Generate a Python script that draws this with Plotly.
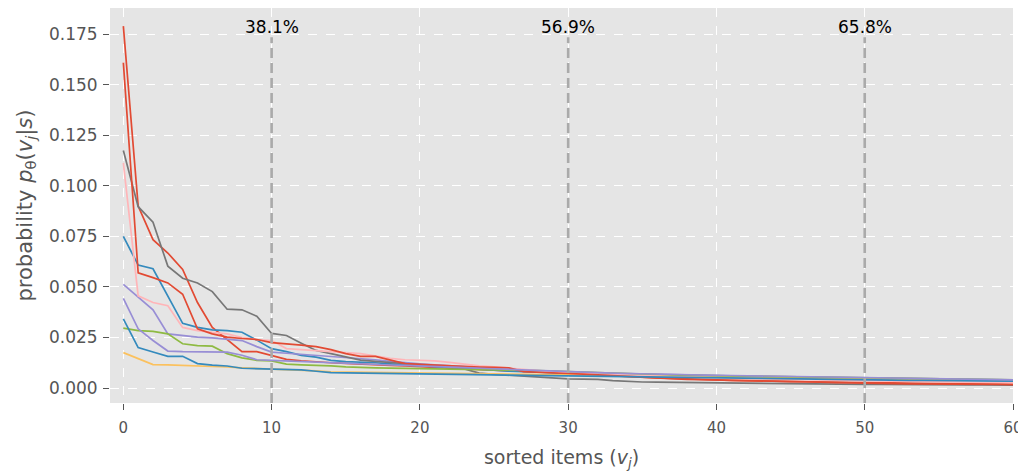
import plotly.graph_objects as go

items = list(range(61))

red_a = [0.179, 0.090, 0.0734, 0.0668, 0.0587, 0.0423, 0.030, 0.024, 0.018, 0.018,
         0.016, 0.0142, 0.0135, 0.0129, 0.0125, 0.0122, 0.0118, 0.0115, 0.0112, 0.011,
         0.0105, 0.0102, 0.0099, 0.0096, 0.0093, 0.009, 0.0086, 0.0082, 0.0079, 0.0076,
         0.0072, 0.0068, 0.0064, 0.006, 0.0056, 0.0052, 0.0049, 0.0046, 0.0043, 0.0041,
         0.0039, 0.0037, 0.0035, 0.0034, 0.0033, 0.0032, 0.0031, 0.003, 0.0029, 0.0028,
         0.0027, 0.0026, 0.0025, 0.0024, 0.0023, 0.0022, 0.0021, 0.0021, 0.002, 0.0019, 0.0018]
blue_a = [0.075, 0.0608, 0.059, 0.0452, 0.032, 0.030, 0.0288, 0.0284, 0.0276, 0.0237,
          0.0195, 0.018, 0.0162, 0.0153, 0.0137, 0.0131, 0.0129, 0.0125, 0.012, 0.0115,
          0.011, 0.0105, 0.0101, 0.0096, 0.0091, 0.0088, 0.0084, 0.0081, 0.0078, 0.0075,
          0.0072, 0.007, 0.0068, 0.0066, 0.0064, 0.0062, 0.006, 0.0059, 0.0057, 0.0056,
          0.0055, 0.0054, 0.0053, 0.0052, 0.0051, 0.005, 0.0049, 0.0048, 0.0047, 0.0046,
          0.0045, 0.0044, 0.0043, 0.0042, 0.0041, 0.004, 0.0039, 0.0038, 0.0037, 0.0036, 0.0035]
purple_a = [0.0513, 0.0448, 0.0387, 0.0268, 0.026, 0.0252, 0.0248, 0.0243, 0.0235, 0.0205,
            0.0178, 0.0172, 0.0167, 0.016, 0.0155, 0.015, 0.0145, 0.014, 0.0132, 0.0125,
            0.012, 0.0115, 0.011, 0.0105, 0.01, 0.0096, 0.0092, 0.0088, 0.0085, 0.0082,
            0.0079, 0.0077, 0.0075, 0.0073, 0.0071, 0.0069, 0.0067, 0.0065, 0.0063, 0.0062,
            0.0061, 0.006, 0.0059, 0.0058, 0.0057, 0.0056, 0.0055, 0.0054, 0.0053, 0.0052,
            0.0051, 0.005, 0.0049, 0.0048, 0.0047, 0.0046, 0.0045, 0.0044, 0.0043, 0.0042, 0.0041]
gray = [0.1175, 0.0897, 0.082, 0.0603, 0.0543, 0.052, 0.0477, 0.039, 0.0387, 0.0355,
        0.027, 0.026, 0.0222, 0.0186, 0.017, 0.0155, 0.0138, 0.0132, 0.0127, 0.012,
        0.0115, 0.011, 0.0104, 0.0095, 0.0074, 0.0068, 0.0063, 0.0058, 0.0053, 0.0048,
        0.0045, 0.0044, 0.0043, 0.0037, 0.0032, 0.003, 0.0029, 0.0028, 0.0027, 0.0026,
        0.0025, 0.0024, 0.0023, 0.0022, 0.0022, 0.0021, 0.002, 0.002, 0.0019, 0.0019,
        0.0018, 0.0018, 0.0017, 0.0017, 0.0016, 0.0016, 0.0015, 0.0015, 0.0015, 0.0014, 0.0014]
yellow = [0.0175, 0.0145, 0.0116, 0.0115, 0.0113, 0.011, 0.0108, 0.0104, 0.01, 0.0097,
          0.0094, 0.0092, 0.009, 0.0085, 0.008, 0.0079, 0.0078, 0.0077, 0.0076, 0.0075,
          0.0074, 0.0073, 0.0072, 0.0071, 0.007, 0.0069, 0.0068, 0.0067, 0.0066, 0.0065,
          0.0064, 0.0063, 0.0062, 0.0061, 0.006, 0.0059, 0.0058, 0.0057, 0.0056, 0.0055,
          0.0054, 0.0053, 0.0052, 0.0051, 0.005, 0.0049, 0.0048, 0.0047, 0.0047, 0.0046,
          0.0045, 0.0044, 0.0043, 0.0043, 0.0042, 0.0041, 0.004, 0.004, 0.0039, 0.0038, 0.0038]
green = [0.0296, 0.0284, 0.028, 0.0268, 0.0219, 0.021, 0.0207, 0.017, 0.0149, 0.0137,
         0.0134, 0.0118, 0.0115, 0.0113, 0.011, 0.0105, 0.0101, 0.01, 0.0099, 0.0098,
         0.0097, 0.0096, 0.0095, 0.0094, 0.0093, 0.0092, 0.009, 0.0088, 0.0086, 0.0084,
         0.0081, 0.0078, 0.0075, 0.0072, 0.007, 0.0068, 0.0066, 0.0064, 0.0063, 0.0062,
         0.006, 0.0059, 0.0058, 0.0057, 0.0056, 0.0055, 0.0054, 0.0053, 0.0052, 0.0051,
         0.005, 0.0049, 0.0048, 0.0047, 0.0046, 0.0045, 0.0044, 0.0043, 0.0042, 0.0042, 0.0041]
pink = [0.1114, 0.0456, 0.0423, 0.0407, 0.030, 0.0284, 0.0275, 0.0268, 0.025, 0.024,
        0.0235, 0.0195, 0.019, 0.0186, 0.018, 0.0175, 0.017, 0.0158, 0.0147, 0.014,
        0.0137, 0.0134, 0.0127, 0.0117, 0.011, 0.0105, 0.0099, 0.0092, 0.0084, 0.0078,
        0.0074, 0.0071, 0.0068, 0.0065, 0.0062, 0.006, 0.0058, 0.0056, 0.0054, 0.0052,
        0.005, 0.0048, 0.0047, 0.0045, 0.0044, 0.0042, 0.0041, 0.004, 0.0038, 0.0037,
        0.0036, 0.0035, 0.0034, 0.0033, 0.0032, 0.0031, 0.003, 0.0029, 0.0028, 0.0027, 0.0026]
red_b = [0.161, 0.057, 0.0546, 0.052, 0.0464, 0.0293, 0.0268, 0.0252, 0.0245, 0.024,
         0.0225, 0.022, 0.0212, 0.0205, 0.019, 0.017, 0.0157, 0.0157, 0.014, 0.0121,
         0.0117, 0.0113, 0.011, 0.0107, 0.0104, 0.0102, 0.010, 0.0081, 0.0077, 0.0074,
         0.0072, 0.0069, 0.0066, 0.0062, 0.0058, 0.0054, 0.005, 0.0047, 0.0044, 0.0042,
         0.004, 0.0038, 0.0037, 0.0036, 0.0035, 0.0033, 0.0031, 0.0029, 0.0027, 0.0025,
         0.0024, 0.0023, 0.0022, 0.0021, 0.0021, 0.002, 0.002, 0.0019, 0.0019, 0.0018, 0.0017]
blue_b = [0.0342, 0.020, 0.0178, 0.0157, 0.0157, 0.0121, 0.0113, 0.0109, 0.0098, 0.0096,
          0.0093, 0.0092, 0.009, 0.0083, 0.0076, 0.0075, 0.0074, 0.0073, 0.0072, 0.0071,
          0.007, 0.0069, 0.0068, 0.0066, 0.0065, 0.0064, 0.0063, 0.0062, 0.0061, 0.006,
          0.0059, 0.0058, 0.0057, 0.0056, 0.0055, 0.0053, 0.0052, 0.0051, 0.005, 0.0049,
          0.0048, 0.0047, 0.0047, 0.0046, 0.0045, 0.0044, 0.0043, 0.0043, 0.0042, 0.0041,
          0.004, 0.004, 0.0039, 0.0038, 0.0038, 0.0037, 0.0036, 0.0036, 0.0035, 0.0035, 0.0034]
purple_b = [0.0443, 0.0293, 0.0235, 0.0183, 0.018, 0.018, 0.0179, 0.0178, 0.0162, 0.014,
            0.0137, 0.0134, 0.0131, 0.0128, 0.0124, 0.012, 0.0118, 0.0116, 0.0114, 0.0112,
            0.011, 0.0107, 0.0104, 0.0101, 0.0098, 0.0095, 0.0092, 0.0089, 0.0086, 0.0083,
            0.008, 0.0078, 0.0076, 0.0074, 0.0072, 0.007, 0.0068, 0.0067, 0.0065, 0.0064,
            0.0063, 0.0062, 0.0061, 0.006, 0.0058, 0.0057, 0.0056, 0.0055, 0.0053, 0.0052,
            0.005, 0.0049, 0.0048, 0.0047, 0.0046, 0.0045, 0.0044, 0.0043, 0.0042, 0.0041, 0.004]

series = [red_a, blue_a, purple_a, gray, yellow, green, pink, red_b, blue_b, purple_b]
colors = ["#E24A33", "#348ABD", "#988ED5", "#777777", "#FBC15E", "#8EBA42", "#FFB5B8",
          "#E24A33", "#348ABD", "#988ED5"]

marker_x = [10, 30, 50]
marker_labels = ["38.1%", "56.9%", "65.8%"]

fig = go.Figure()
for vals, col in zip(series, colors):
    fig.add_trace(go.Scatter(x=items, y=vals, mode="lines",
                             line=dict(color=col, width=1.7), showlegend=False,
                             hoverinfo="skip"))

for xv, lab in zip(marker_x, marker_labels):
    fig.add_shape(type="line", x0=xv, x1=xv, xref="x", y0=0, y1=0.926, yref="paper",
                  line=dict(color="#aaaaaa", width=2.6, dash="10px,5px"), layer="above")
    fig.add_annotation(x=xv, y=0.1785, xref="x", yref="y", text=lab, showarrow=False,
                       font=dict(family="DejaVu Sans", size=17, color="black"))

tickfont = dict(family="DejaVu Sans", size=17, color="#555555")
xfont = dict(family="DejaVu Sans", size=15, color="#555555")

# page body adds an 8px offset, so the figure is sized to fit 1026x471 after it
fig.update_layout(
    width=1018, height=463,
    margin=dict(l=102, r=13, t=0, b=68),
    paper_bgcolor="white", plot_bgcolor="#E5E5E5",
    font=dict(family="DejaVu Sans", color="#555555"),
    xaxis=dict(range=[-0.9, 60], tickvals=[0, 10, 20, 30, 40, 50, 60],
               showgrid=True, gridcolor="white", gridwidth=1, griddash="dash",
               zeroline=False, ticks="outside", ticklen=6, tickcolor="#555555",
               tickfont=xfont, showline=False, ticklabeloverflow="allow",
               ticklabelstandoff=5,
               title=dict(text="sorted items (<i>v</i><sub><i>j</i></sub>)",
                          font=dict(family="DejaVu Sans", size=19, color="#555555"),
                          standoff=16)),
    yaxis=dict(range=[-0.0074, 0.188],
               tickvals=[0, 0.025, 0.05, 0.075, 0.1, 0.125, 0.15, 0.175],
               tickformat=".3f",
               showgrid=True, gridcolor="white", gridwidth=1, griddash="dash",
               zeroline=False, ticks="outside", ticklen=6, tickcolor="#555555",
               tickfont=tickfont, showline=False, ticklabelstandoff=2,
               title=dict(text="probability <i>p</i><sub>θ</sub>(<i>v</i><sub><i>j</i></sub>|<i>s</i>)",
                          font=dict(family="DejaVu Sans", size=21, color="#555555"),
                          standoff=10)),
)
for ax in (fig.layout.xaxis, fig.layout.yaxis):
    ax.automargin = False

fig.write_html("out.html")
